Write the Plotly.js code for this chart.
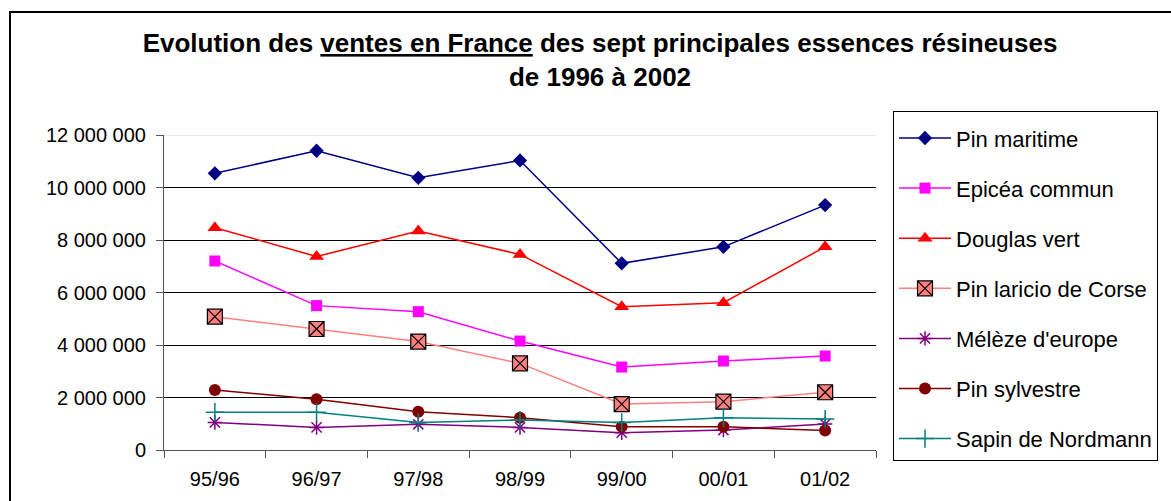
<!DOCTYPE html>
<html>
<head>
<meta charset="utf-8">
<script src="https://cdn.plot.ly/plotly-3.0.1.min.js"></script>
<style>html,body{margin:0;padding:0;background:#fff;}#chart{width:1171px;height:501px;}</style>
</head>
<body>
<div id="chart"></div>
<script>
const categories = ["95/96", "96/97", "97/98", "98/99", "99/00", "00/01", "01/02"];
const pinMaritime = [10540000, 11400000, 10370000, 11030000, 7110000, 7740000, 9330000];
const epiceaCommun = [7200000, 5500000, 5270000, 4150000, 3160000, 3390000, 3580000];
const douglasVert = [8470000, 7370000, 8340000, 7450000, 5460000, 5610000, 7740000];
const pinLaricio = [5080000, 4610000, 4130000, 3300000, 1750000, 1840000, 2200000];
const melezeEurope = [1050000, 860000, 980000, 860000, 660000, 760000, 990000];
const pinSylvestre = [2290000, 1930000, 1460000, 1230000, 890000, 890000, 740000];
const sapinNordmann = [1440000, 1440000, 1050000, 1140000, 1050000, 1230000, 1180000];
const yTicks = [0, 2000000, 4000000, 6000000, 8000000, 10000000, 12000000];

const FONT = "Liberation Sans, Arial, sans-serif";

function tr(name, y, color, symbol, size, extra) {
  return {
    type: "scatter", mode: "lines+markers", name: name, x: categories, y: y,
    legendgroup: name,
    line: {color: color, width: 1.5},
    marker: Object.assign({symbol: symbol, size: size, color: color}, extra || {})
  };
}

const data = [
  tr("Pin maritime", pinMaritime, "#000080", "diamond", 11),
  tr("Epicéa commun", epiceaCommun, "#FF00FF", "square", 11),
  tr("Douglas vert", douglasVert, "#FF0000", "triangle-up", 13),
  tr("Pin laricio de Corse", pinLaricio, "#FF8080", "square-x", 15, {color: "#FF8080", line: {color: "#000000", width: 1.2}}),
  tr("Mélèze d'europe", melezeEurope, "#800080", "asterisk-open", 12, {line: {color: "#800080", width: 1.5}}),
  tr("Pin sylvestre", pinSylvestre, "#800000", "circle", 12),
  tr("Sapin de Nordmann", sapinNordmann, "#008080", "cross-thin-open", 13, {line: {color: "#008080", width: 1.5}})
];

const L = 164, R = 876, T = 135, B = 450;
const px = v => (v - L) / (R - L);
const py = v => (B - v) / (B - T);

const layout = {
  width: 1171, height: 501, autosize: false,
  margin: {l: L, r: 1171 - R, t: T, b: 501 - B, pad: 0},
  paper_bgcolor: "#ffffff", plot_bgcolor: "#ffffff",
  separators: ", ",
  font: {family: FONT, color: "#000000", size: 20},
  title: {
    text: "<b>Evolution des <span style=\"text-decoration:underline\">ventes en France</span> des sept principales essences résineuses<br>de 1996 à 2002</b>",
    font: {family: FONT, size: 26, color: "#000000"},
    xref: "container", x: 600 / 1171, xanchor: "center",
    yref: "container", y: 1 - 52 / 501, yanchor: "top"
  },
  xaxis: {
    type: "category", range: [-0.5, 6.5],
    showline: true, linecolor: "#555555", linewidth: 1,
    ticks: "outside", tickson: "boundaries", ticklen: 7, tickcolor: "#555555",
    showgrid: false, zeroline: false,
    tickfont: {family: FONT, size: 20, color: "#000000"},
    ticklabelstandoff: 11
  },
  yaxis: {
    range: [0, 12000000], tickvals: yTicks, tickformat: ",d",
    showline: true, linecolor: "#555555", linewidth: 1,
    ticks: "outside", ticklen: 7, tickcolor: "#555555",
    showgrid: true, gridcolor: "#000000", gridwidth: 1, zeroline: false,
    tickfont: {family: FONT, size: 20, color: "#000000"},
    ticklabelstandoff: 6
  },
  legend: {
    x: px(893), y: py(111), xanchor: "left", yanchor: "top",
    bgcolor: "#ffffff", bordercolor: "#000000", borderwidth: 1,
    font: {family: FONT, size: 22, color: "#000000"},
    title: {text: " ", font: {size: 4}},
    tracegroupgap: 18.5, itemwidth: 52, maxheight: 480
  },
  shapes: [
    {type: "line", xref: "paper", yref: "y", x0: 0, x1: 1, y0: 12000000, y1: 12000000,
     line: {color: "#e4e4e4", width: 1.5}, layer: "above"},
    {type: "rect", xref: "paper", yref: "paper", x0: px(10), x1: px(1180), y0: py(12), y1: py(520),
     line: {color: "#000000", width: 2}, fillcolor: "rgba(0,0,0,0)", layer: "below"}
  ],
  showlegend: true
};

Plotly.newPlot("chart", data, layout, {displayModeBar: false, staticPlot: true});
</script>
</body>
</html>
